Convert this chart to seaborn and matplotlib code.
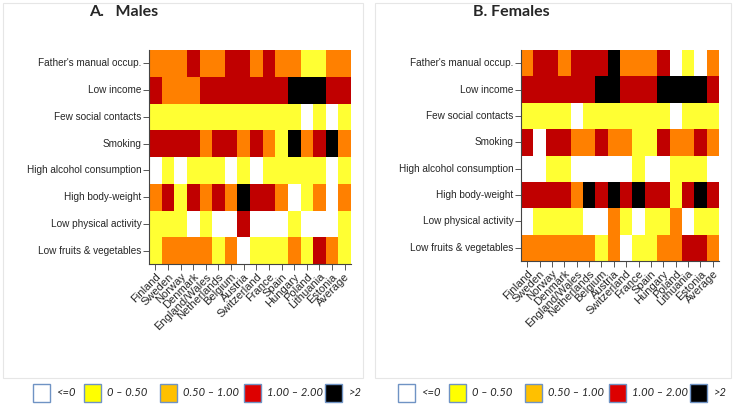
import matplotlib
matplotlib.use("Agg")
import numpy as np
import pandas as pd
import matplotlib.pyplot as plt
import seaborn as sns
from matplotlib.colors import ListedColormap, BoundaryNorm
from matplotlib.patches import Rectangle

COUNTRIES = [
    "Finland", "Sweden", "Norway", "Denmark", "England/Wales", "Netherlands",
    "Belgium", "Austria", "Switzerland", "France", "Spain", "Hungary",
    "Poland", "Lithuania", "Estonia", "Average",
]
RISK_FACTORS = [
    "Father's manual occup.", "Low income", "Few social contacts", "Smoking",
    "High alcohol consumption", "High body-weight", "Low physical activity",
    "Low fruits & vegetables",
]

# class codes: 0 = <=0, 1 = 0-0.50, 2 = 0.50-1.00, 3 = 1.00-2.00, 4 = >2
MALES = [
    [2, 2, 2, 3, 2, 2, 3, 3, 2, 3, 2, 2, 1, 1, 2, 2],
    [3, 2, 2, 2, 3, 3, 3, 3, 3, 3, 3, 4, 4, 4, 3, 3],
    [1, 1, 1, 1, 1, 1, 1, 1, 1, 1, 1, 1, 0, 1, 0, 1],
    [3, 3, 3, 3, 2, 3, 3, 2, 3, 2, 1, 4, 2, 3, 4, 2],
    [0, 1, 0, 1, 1, 1, 0, 1, 0, 1, 1, 1, 1, 1, 0, 1],
    [2, 3, 1, 3, 2, 3, 2, 4, 3, 3, 2, 0, 1, 2, 0, 2],
    [1, 1, 1, 0, 1, 0, 0, 3, 0, 0, 0, 1, 0, 0, 0, 1],
    [1, 2, 2, 2, 2, 1, 2, 0, 1, 1, 1, 2, 1, 3, 2, 1],
]
FEMALES = [
    [2, 3, 3, 2, 3, 3, 3, 4, 2, 2, 2, 3, 0, 1, 0, 2],
    [3, 3, 3, 3, 3, 3, 4, 4, 3, 3, 3, 4, 4, 4, 4, 3],
    [1, 1, 1, 1, 0, 1, 1, 1, 1, 1, 1, 1, 0, 1, 1, 1],
    [3, 0, 3, 3, 2, 2, 3, 2, 2, 1, 1, 3, 2, 2, 3, 2],
    [0, 0, 1, 1, 0, 0, 0, 0, 0, 1, 0, 0, 1, 1, 1, 0],
    [3, 3, 3, 3, 2, 4, 3, 4, 3, 4, 3, 3, 1, 3, 4, 3],
    [0, 1, 1, 1, 1, 0, 0, 2, 1, 0, 1, 1, 2, 0, 1, 1],
    [2, 2, 2, 2, 2, 2, 1, 2, 0, 1, 1, 2, 2, 3, 3, 2],
]
CLASS_LABELS = ["<=0", "0 \u2013 0.50", "0.50 \u2013 1.00", "1.00 \u2013 2.00", ">2"]

CELL_COLORS = ["#FFFFFF", "#FFFF33", "#FF8000", "#C00000", "#000000"]
LEGEND_COLORS = ["#FFFFFF", "#FFFF00", "#FFC000", "#DD0000", "#000000"]

W, H = 733, 409


def px(x0, y0, x1, y1):
    # pixel box (top-left origin) -> figure fraction [left, bottom, width, height]
    return [x0 / W, 1 - y1 / H, (x1 - x0) / W, (y1 - y0) / H]


def draw_panel(fig, data, box, title, title_x):
    df = pd.DataFrame(data, index=RISK_FACTORS, columns=COUNTRIES)
    cmap = ListedColormap(CELL_COLORS)
    norm = BoundaryNorm(np.arange(-0.5, 5.5, 1), cmap.N)

    ax = fig.add_axes(px(*box))
    sns.heatmap(df, cmap=cmap, norm=norm, cbar=False, ax=ax,
                xticklabels=True, yticklabels=True, linewidths=0)
    ax.tick_params(axis="both", which="major", left=True, bottom=True,
                   length=4, width=0.7, color="#555555", pad=1.5)
    ax.set_yticklabels(RISK_FACTORS, rotation=0, fontsize=7.2)
    ax.set_xticklabels(COUNTRIES, rotation=45, ha="right", fontsize=8,
                       rotation_mode="anchor")
    ax.set_xlabel("")
    ax.set_ylabel("")
    for side in ["left", "bottom"]:
        ax.spines[side].set_visible(True)
        ax.spines[side].set_color("#444444")
        ax.spines[side].set_linewidth(0.8)

    fig.text(title_x / W, 1 - 12 / H, title, fontsize=11.5, fontweight="bold",
             family="Lato", va="center", ha="left")
    return ax


def draw_legend(fig, xs, y0=384, y1=402, size=17):
    for i, (label, color) in enumerate(zip(CLASS_LABELS, LEGEND_COLORS)):
        x = xs[i]
        fig.patches.append(Rectangle((x / W, 1 - y1 / H), size / W, (y1 - y0) / H,
                                     transform=fig.transFigure, facecolor=color,
                                     edgecolor="#6F93C4", linewidth=1.0))
        fig.text((x + size + 6) / W, 1 - (y0 + y1) / 2 / H, label, fontsize=8,
                 style="italic", family="Lato", va="center", ha="left")


sns.set_theme(style="white")
plt.rcParams["font.family"] = ["Liberation Sans", "DejaVu Sans"]

fig = plt.figure(figsize=(W / 100, H / 100), dpi=100)

# light panel frames
for frame in [(3, 3, 363, 378), (375, 3, 731, 378)]:
    fig.patches.append(Rectangle((frame[0] / W, 1 - frame[3] / H),
                                 (frame[2] - frame[0]) / W, (frame[3] - frame[1]) / H,
                                 transform=fig.transFigure, facecolor="none",
                                 edgecolor="#E6E6E6", linewidth=0.8))

draw_panel(fig, MALES, (149, 50, 351, 264), "A.   Males", 89)
draw_panel(fig, FEMALES, (521, 50, 719, 261), "B. Females", 473)

draw_legend(fig, [33, 84, 160, 244, 325])
draw_legend(fig, [398, 449, 525, 609, 690])

fig.savefig("out.png", dpi=100)
